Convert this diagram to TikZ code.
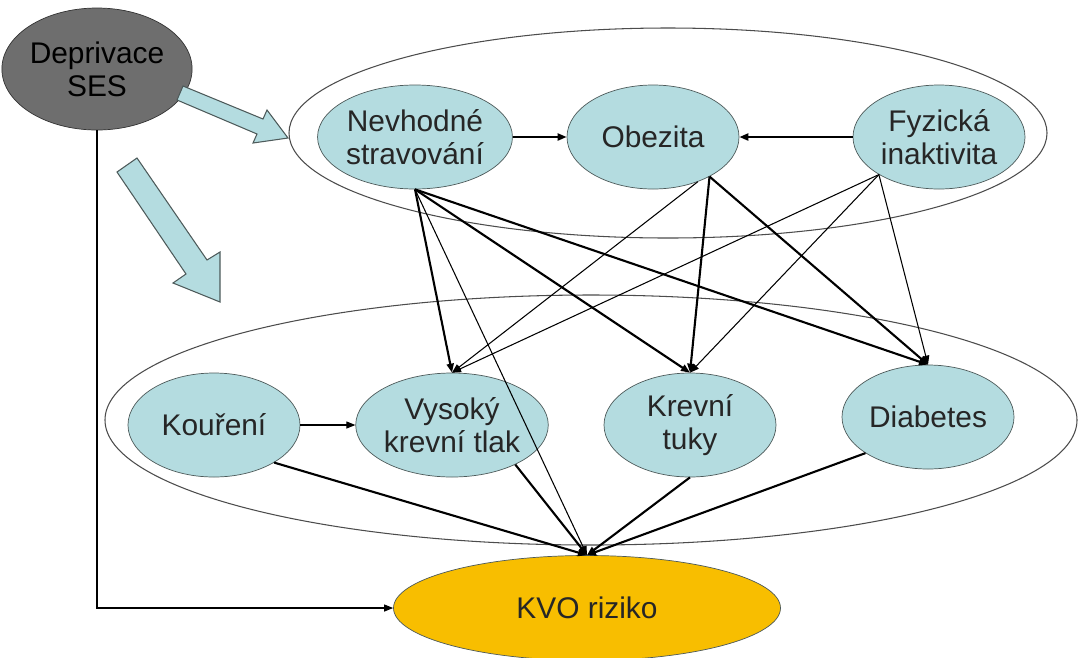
\documentclass[tikz,border=0pt]{standalone}
\usepackage{fontspec}
\setmainfont{Liberation Sans}
\usetikzlibrary{positioning,arrows.meta,shapes.geometric}
\definecolor{nodeblue}{HTML}{B4DCE0}
\definecolor{riskgold}{HTML}{F8BE00}
\definecolor{rimgray}{HTML}{4D5A5A}
\begin{document}
\begin{tikzpicture}[x=0.2mm, y=-0.2mm, node distance={47.6mm}, >={Triangle[length=1.8mm,width=1.4mm]},
  main/.style = {draw=rimgray, ellipse, fill=nodeblue, minimum width=34.4mm, minimum height=20.8mm, inner sep=0pt, align=center, text=black!85, font=\fontsize{17}{18.6}\selectfont},
  group/.style = {draw=black!70, ellipse, line width=0.6pt},
  weak/.style = {line width=0.6pt},
  strong/.style = {line width=1.2pt},
  bigarrow/.style = {fill=nodeblue, draw=rimgray, line width=0.6pt}]
  \useasboundingbox (0,0) rectangle (1078,657);
  \node[group, minimum width=151.6mm, minimum height=42mm] (g1) at (668,133) {};
  \node[group, minimum width=194.4mm, minimum height=50mm] (g2) at (591,420) {};

  \node[main, fill=black!57, draw=black!80, text=black, minimum width=35mm, minimum height=24.4mm] (0) at (97,69) {Deprivace\\SES};
  \node[main] (1) at (415,137) {Nevhodné\\stravování};
  \node[main] (2)[right of=1] {Obezita};
  \node[main] (3)[xshift=9.6mm, right of=2] {Fyzická\\inaktivita};
  \node[main] (5) at (452,425) {Vysoký\\krevní tlak};
  \node[main] (4)[left of=5] {Kouření};
  \node[main] (6)[right of=5] {Krevní\\tuky};
  \node[main] (7)[yshift=1.6mm, right of=6] {Diabetes};
  \node[main, fill=riskgold, minimum width=77.4mm, minimum height=21mm] (8) at (587,608) {KVO riziko};

  \filldraw[bigarrow] (183,86) -- (263,119) -- (267,110) -- (288,138) -- (253,143) -- (257,134) -- (177,100) -- cycle;
  \filldraw[bigarrow] (137,158) -- (207,260) -- (220,252) -- (220,302) -- (173,283) -- (186,274) -- (117,172) -- cycle;

  \draw[strong,->] (1)--(2);
  \draw[strong,->] (3)--(2);
  \draw[weak,->] (4)--(5);
  \draw[weak,->] (0) |- (8);
  \draw[strong,->] (1.south)--(5.north);
  \draw[strong,->] (1.south)--(6.north);
  \draw[strong,->] (1.south)--(7.north);
  \draw[weak,->] (1.south)--(8.north);
  \draw[weak,->] (2.-45)--(5.north);
  \draw[strong,->] (2.-35)--(6.north);
  \draw[strong,->] (2.-35)--(7.north);
  \draw[weak,->] (3.-148)--(5.north);
  \draw[weak,->] (3.-148)--(6.north);
  \draw[weak,->] (3.-148)--(7.north);
  \draw[strong,->] (4.-32)--(8.north);
  \draw[strong,->] (5.-32)--(8.north);
  \draw[strong,->] (6.south)--(8.north);
  \draw[strong,->] (7.-150)--(8.north);
\end{tikzpicture}
\end{document}
